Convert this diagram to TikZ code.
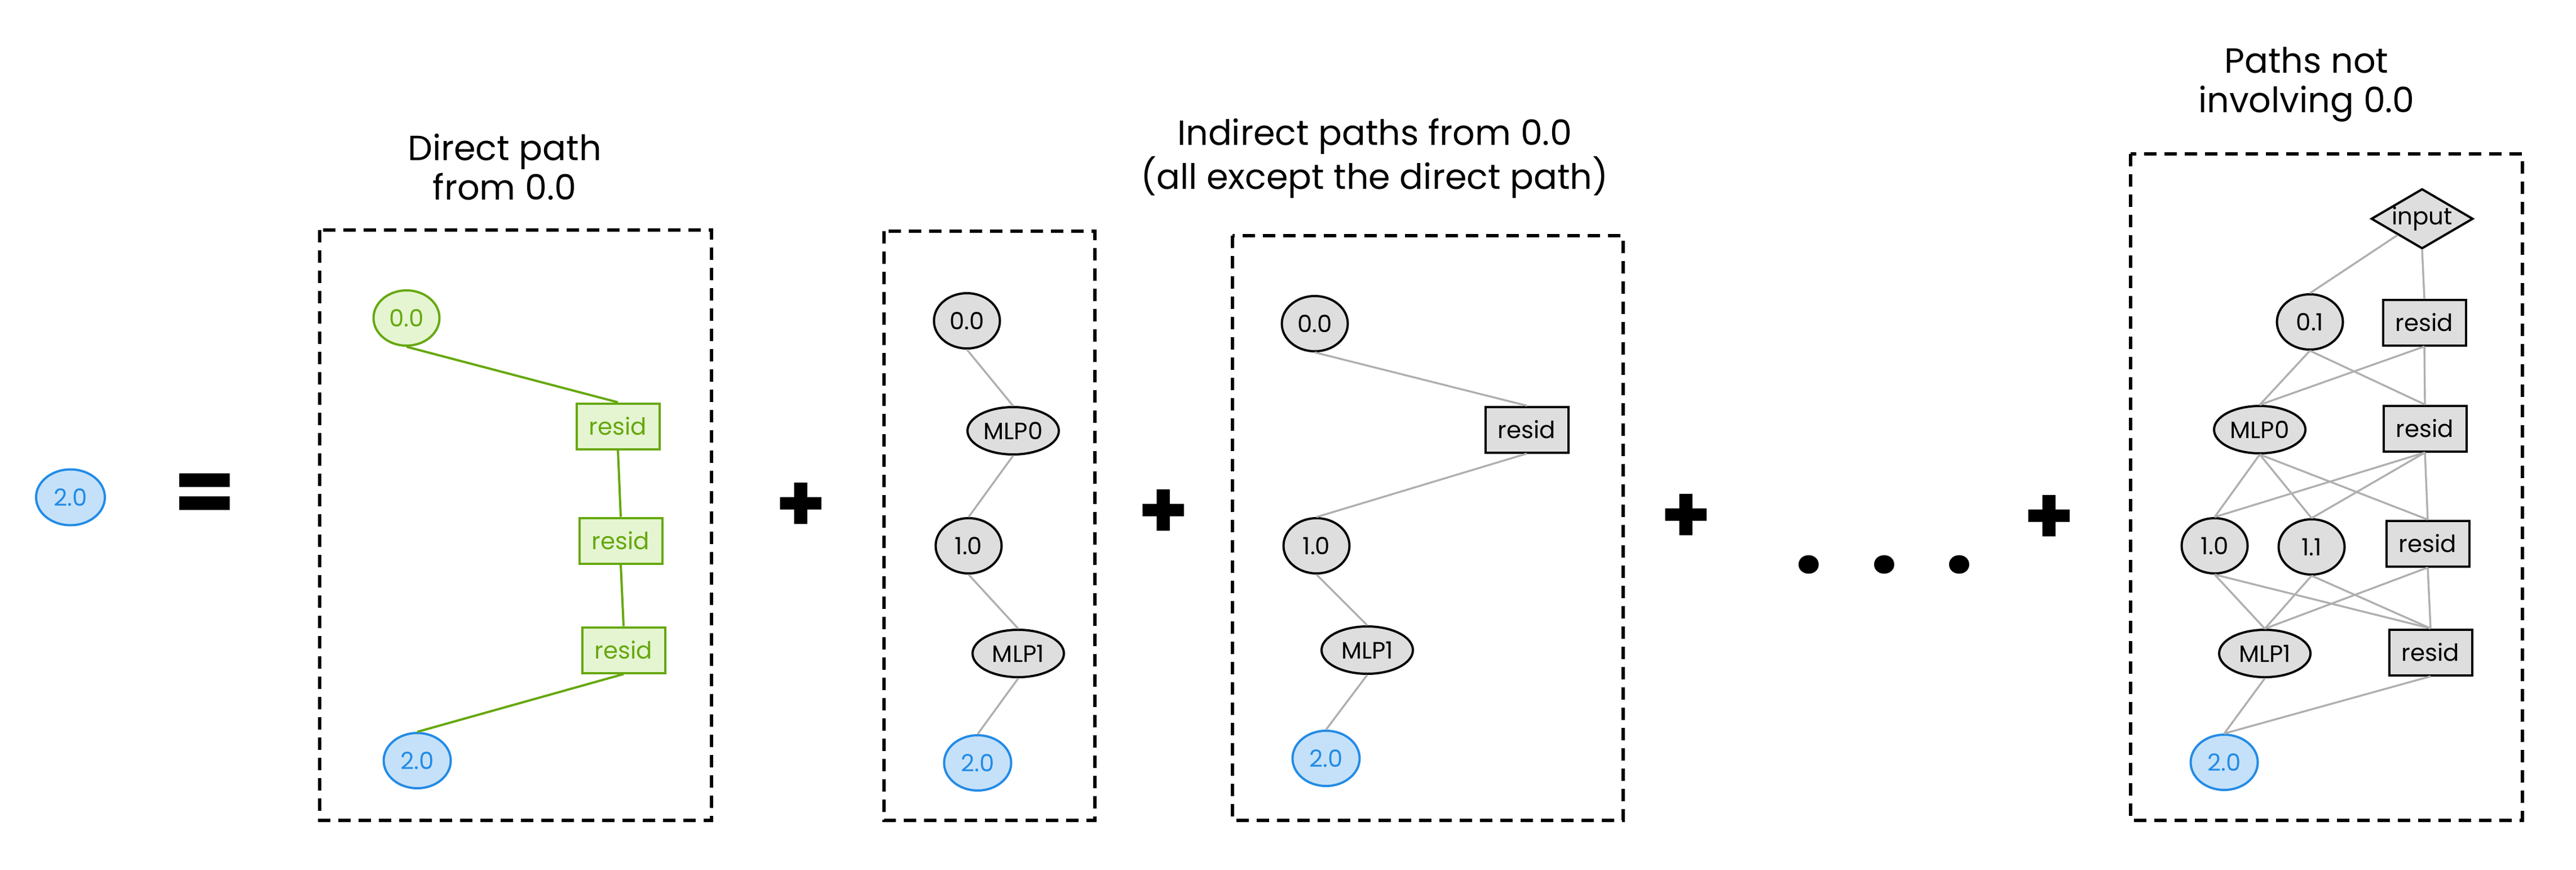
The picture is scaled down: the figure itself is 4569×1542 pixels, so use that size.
\documentclass[tikz,border=0pt]{standalone}
\usepackage{fontspec}
\setmainfont{Poppins}
\usetikzlibrary{shapes.geometric}
\definecolor{gstroke}{HTML}{66A80F}
\definecolor{gfill}{HTML}{E5F5D2}
\definecolor{bstroke}{HTML}{228BE6}
\definecolor{bfill}{HTML}{C5E1F9}
\definecolor{nfill}{HTML}{DEDEDE}
\definecolor{edgec}{HTML}{AFAFAF}
\begin{document}
\begin{tikzpicture}[x=0.25pt,y=-0.25pt,
  every node/.style={font=\fontsize{10.5}{12.5}\selectfont, inner sep=0pt},
  ell/.style={ellipse, draw=black, fill=nfill, line width=1pt, minimum width=29.25pt, minimum height=24.5pt},
  mlp/.style={ell, minimum width=40.5pt, minimum height=21pt},
  res/.style={rectangle, draw=black, fill=nfill, line width=1pt, minimum width=36.75pt, minimum height=20.25pt},
  gres/.style={res, draw=gstroke, fill=gfill, text=gstroke},
  gell/.style={ell, draw=gstroke, fill=gfill, text=gstroke},
  bell/.style={ell, draw=bstroke, fill=bfill, text=bstroke, line width=1pt, minimum width=29.75pt},
  dia/.style={diamond, aspect=1.7, draw=black, fill=nfill, line width=1pt, minimum width=42pt, minimum height=25.25pt},
  dframe/.style={draw=black, line width=1.5pt, dash pattern=on 5.5pt off 3.5pt},
  link/.style={draw=edgec, line width=0.85pt},
  glink/.style={draw=gstroke, line width=1pt},
  ttl/.style={font=\fontsize{15.5}{17.5}\selectfont, align=center, anchor=north},
  bigsym/.style={font=\fontsize{36}{40}\selectfont\bfseries}
]
\useasboundingbox (0,0) rectangle (4569,1542);

% frames
\draw[dframe] (567,408) rectangle (1262,1455);
\draw[dframe] (1568,410) rectangle (1942,1455);
\draw[dframe] (2186,418) rectangle (2879,1455);
\draw[dframe] (3779,273) rectangle (4474,1455);

% titles
\node[ttl] (t1) at (895,237) {Direct path\\from 0.0};
\node[ttl] (t3) at (2438,209) {Indirect paths from 0.0\\(all except the direct path)};
\node[ttl] (t4) at (4091,83) {Paths not\\involving 0.0};

% left side
\node[bell, minimum width=30.5pt, minimum height=24.75pt] (L20) at (125,882) {2.0};
\node[bigsym, font=\fontsize{40}{44}\selectfont\bfseries] (eq) at (363,884) {=};

% box 1
\node[gell] (A00) at (721,564) {0.0};
\node[gres] (Ar1) at (1096,756) {resid};
\node[gres] (Ar2) at (1101,959) {resid};
\node[gres] (Ar3) at (1106,1153) {resid};
\node[bell] (A20) at (740,1349) {2.0};
\draw[glink] (A00.south) -- (Ar1.north);
\draw[glink] (Ar1.south) -- (Ar2.north);
\draw[glink] (Ar2.south) -- (Ar3.north);
\draw[glink] (Ar3.south) -- (A20.north);

\node[bigsym] (p1) at (1421,900) {+};

% box 2
\node[ell] (B00) at (1715,569) {0.0};
\node[mlp] (BM0) at (1797,764) {MLP0};
\node[ell] (B10) at (1718,968) {1.0};
\node[mlp] (BM1) at (1806,1159) {MLP1};
\node[bell] (B20) at (1734,1353) {2.0};
\draw[link] (B00.south) -- (BM0.north);
\draw[link] (BM0.south) -- (B10.north);
\draw[link] (B10.south) -- (BM1.north);
\draw[link] (BM1.south) -- (B20.north);

\node[bigsym] (p2) at (2064,912) {+};

% box 3
\node[ell] (C00) at (2332,574) {0.0};
\node[res] (Cr) at (2708,762) {resid};
\node[ell] (C10) at (2335,968) {1.0};
\node[mlp] (CM1) at (2425,1153) {MLP1};
\node[bell] (C20) at (2352,1345) {2.0};
\draw[link] (C00.south) -- (Cr.north);
\draw[link] (Cr.south) -- (C10.north);
\draw[link] (C10.south) -- (CM1.north);
\draw[link] (CM1.south) -- (C20.north);

\node[bigsym] (p3) at (2991,920) {+};
\node[bigsym, font=\fontsize{44}{48}\selectfont\bfseries] (dots) at (3342,1002) {.\hspace{21pt}.\hspace{21pt}.};
\node[bigsym] (p4) at (3635,922) {+};

% box 4
\node[dia] (inp) at (4296,388) {input};
\node[ell] (D01) at (4097,571) {0.1};
\node[res] (Dr1) at (4300,572) {resid};
\node[mlp] (DM0) at (4008,762) {MLP0};
\node[res] (Dr2) at (4301,760) {resid};
\node[ell] (D10) at (3928,968) {1.0};
\node[ell] (D11) at (4100,970) {1.1};
\node[res] (Dr3) at (4306,964) {resid};
\node[mlp] (DM1) at (4017,1159) {MLP1};
\node[res] (Dr4) at (4311,1157) {resid};
\node[bell] (D20) at (3945,1352) {2.0};

\draw[link] (inp) -- (D01.north);
\draw[link] (inp.south) -- (Dr1.north);
\draw[link] (D01.south) -- (DM0.north);
\draw[link] (D01.south) -- (Dr2.north);
\draw[link] (Dr1.south) -- (DM0.north);
\draw[link] (Dr1.south) -- (Dr2.north);
\draw[link] (DM0.south) -- (D10.north);
\draw[link] (DM0.south) -- (D11.north);
\draw[link] (DM0.south) -- (Dr3.north);
\draw[link] (Dr2.south) -- (D10.north);
\draw[link] (Dr2.south) -- (D11.north);
\draw[link] (Dr2.south) -- (Dr3.north);
\draw[link] (D10.south) -- (DM1.north);
\draw[link] (D10.south) -- (Dr4.north);
\draw[link] (D11.south) -- (DM1.north);
\draw[link] (D11.south) -- (Dr4.north);
\draw[link] (Dr3.south) -- (DM1.north);
\draw[link] (Dr3.south) -- (Dr4.north);
\draw[link] (DM1.south) -- (D20.north);
\draw[link] (Dr4.south) -- (D20.north);
\end{tikzpicture}
\end{document}
